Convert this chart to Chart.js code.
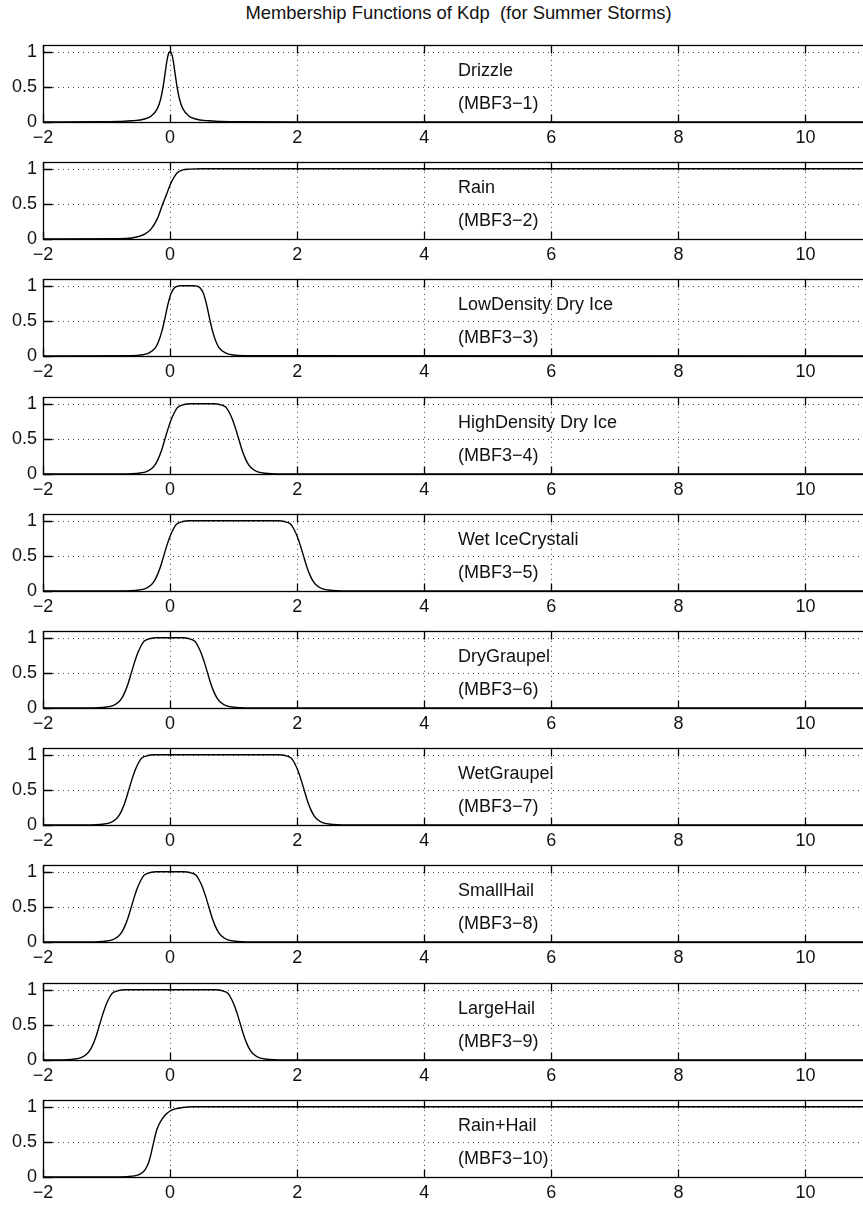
<!DOCTYPE html>
<html>
<head>
<meta charset="utf-8">
<title>Membership Functions of Kdp</title>
<script src="https://cdn.jsdelivr.net/npm/chart.js@4.4.0/dist/chart.umd.min.js"></script>
<style>
    html, body { margin: 0; padding: 0; background: #fff; overflow: hidden; }
    body { width: 863px; height: 1207px; position: relative; font-family: 'Liberation Sans', Arial, Helvetica, sans-serif; }
    #title { position: absolute; left: 0; top: 3px; width: 917px; text-align: center; font-size: 18.4px; line-height: 20px; color: #111; white-space: pre; }
    canvas { position: absolute; left: 0; }
</style>
</head>
<body>
<div id="title">Membership Functions of Kdp  (for Summer Storms)</div>
<div id="panels"></div>
<script>
// Axis ticks
const xTicks = [-2, 0, 2, 4, 6, 8, 10];
const yTicks = [0, 0.5, 1];

// Panel labels
const classNames = ['Drizzle', 'Rain', 'LowDensity Dry Ice', 'HighDensity Dry Ice', 'Wet IceCrystali',
    'DryGraupel', 'WetGraupel', 'SmallHail', 'LargeHail', 'Rain+Hail'];
const classCodes = ['(MBF3\u22121)', '(MBF3\u22122)', '(MBF3\u22123)', '(MBF3\u22124)', '(MBF3\u22125)',
    '(MBF3\u22126)', '(MBF3\u22127)', '(MBF3\u22128)', '(MBF3\u22129)', '(MBF3\u221210)'];

// Curves (Kdp -> membership)
const drizzleX = [-2, -1.2, -0.8, -0.6, -0.4, -0.3, -0.2, -0.15, -0.11, -0.1, -0.075, -0.05, -0.025, 0, 0.025, 0.05, 0.075, 0.1, 0.11, 0.15, 0.2, 0.3, 0.4, 0.6, 0.8, 1.2, 2, 11];
const drizzleY = [0.001, 0.003, 0.0085, 0.017, 0.043, 0.083, 0.19, 0.32, 0.5, 0.557, 0.715, 0.87, 0.972, 1, 0.972, 0.87, 0.715, 0.557, 0.5, 0.32, 0.19, 0.083, 0.043, 0.017, 0.0085, 0.003, 0.001, 0];

const rainX = [-2, -0.8, -0.6, -0.5, -0.4, -0.3, -0.2, -0.115, -0.05, 0, 0.05, 0.1, 0.15, 0.2, 0.3, 0.5, 11];
const rainY = [0, 0.003, 0.015, 0.035, 0.07, 0.14, 0.29, 0.5, 0.65, 0.77, 0.86, 0.93, 0.965, 0.985, 0.995, 1, 1];

const lowIceX = [-2, -0.63, -0.43, -0.33, -0.23, -0.18, -0.13, -0.09, -0.03, 0.02, 0.07, 0.12, 0.17, 0.27, 0.37, 0.42, 0.47, 0.52, 0.57, 0.63, 0.67, 0.72, 0.77, 0.87, 0.97, 1.17, 11];
const lowIceY = [0, 0.004, 0.018, 0.045, 0.12, 0.21, 0.35, 0.5, 0.75, 0.9, 0.971, 0.995, 1, 1, 1, 0.995, 0.971, 0.9, 0.75, 0.5, 0.35, 0.21, 0.12, 0.045, 0.018, 0.004, 0];

const highIceX = [-2, -0.68, -0.53, -0.38, -0.28, -0.23, -0.18, -0.13, -0.08, -0.03, 0.02, 0.07, 0.12, 0.22, 0.32, 0.68, 0.78, 0.88, 0.93, 0.98, 1.03, 1.08, 1.13, 1.18, 1.23, 1.28, 1.38, 1.53, 1.68, 11];
const highIceY = [0, 0.002, 0.008, 0.03, 0.085, 0.14, 0.23, 0.35, 0.5, 0.65, 0.78, 0.88, 0.95, 0.99, 1, 1, 0.99, 0.95, 0.88, 0.78, 0.65, 0.5, 0.35, 0.23, 0.14, 0.085, 0.03, 0.008, 0.002, 0];

const wetIceX = [-2, -0.7, -0.55, -0.4, -0.3, -0.25, -0.2, -0.15, -0.1, -0.05, 0, 0.05, 0.1, 0.2, 0.3, 1.7, 1.8, 1.9, 1.95, 2.0, 2.05, 2.1, 2.15, 2.2, 2.25, 2.3, 2.4, 2.55, 2.7, 11];
const wetIceY = [0, 0.002, 0.008, 0.03, 0.085, 0.14, 0.23, 0.35, 0.5, 0.65, 0.78, 0.88, 0.95, 0.99, 1, 1, 0.99, 0.95, 0.88, 0.78, 0.65, 0.5, 0.35, 0.23, 0.14, 0.085, 0.03, 0.008, 0.002, 0];

const dryGraupelX = [-2, -1.21, -1.06, -0.91, -0.81, -0.76, -0.71, -0.66, -0.61, -0.56, -0.51, -0.46, -0.41, -0.31, -0.21, 0.19, 0.29, 0.39, 0.44, 0.49, 0.54, 0.59, 0.64, 0.69, 0.74, 0.79, 0.89, 1.04, 1.19, 11];
const dryGraupelY = [0, 0.002, 0.008, 0.03, 0.085, 0.14, 0.23, 0.35, 0.5, 0.65, 0.78, 0.88, 0.95, 0.99, 1, 1, 0.99, 0.95, 0.88, 0.78, 0.65, 0.5, 0.35, 0.23, 0.14, 0.085, 0.03, 0.008, 0.002, 0];

const wetGraupelX = [-2, -1.25, -1.1, -0.95, -0.85, -0.8, -0.75, -0.7, -0.65, -0.6, -0.55, -0.5, -0.45, -0.35, -0.25, 1.71, 1.81, 1.91, 1.96, 2.01, 2.06, 2.11, 2.16, 2.21, 2.26, 2.31, 2.41, 2.56, 2.71, 11];
const wetGraupelY = [0, 0.002, 0.008, 0.03, 0.085, 0.14, 0.23, 0.35, 0.5, 0.65, 0.78, 0.88, 0.95, 0.99, 1, 1, 0.99, 0.95, 0.88, 0.78, 0.65, 0.5, 0.35, 0.23, 0.14, 0.085, 0.03, 0.008, 0.002, 0];

const smallHailX = [-2, -1.21, -1.06, -0.91, -0.81, -0.76, -0.71, -0.66, -0.61, -0.56, -0.51, -0.46, -0.41, -0.31, -0.21, 0.21, 0.31, 0.41, 0.46, 0.51, 0.56, 0.61, 0.66, 0.71, 0.76, 0.81, 0.91, 1.06, 1.21, 11];
const smallHailY = [0, 0.002, 0.008, 0.03, 0.085, 0.14, 0.23, 0.35, 0.5, 0.65, 0.78, 0.88, 0.95, 0.99, 1, 1, 0.99, 0.95, 0.88, 0.78, 0.65, 0.5, 0.35, 0.23, 0.14, 0.085, 0.03, 0.008, 0.002, 0];

const largeHailX = [-2, -1.71, -1.56, -1.41, -1.31, -1.26, -1.21, -1.16, -1.11, -1.06, -1.01, -0.96, -0.91, -0.81, -0.71, 0.71, 0.81, 0.91, 0.96, 1.01, 1.06, 1.11, 1.16, 1.21, 1.26, 1.31, 1.41, 1.56, 1.71, 11];
const largeHailY = [0, 0.002, 0.008, 0.03, 0.085, 0.14, 0.23, 0.35, 0.5, 0.65, 0.78, 0.88, 0.95, 0.99, 1, 1, 0.99, 0.95, 0.88, 0.78, 0.65, 0.5, 0.35, 0.23, 0.14, 0.085, 0.03, 0.008, 0.002, 0];

const rainHailX = [-2, -0.8, -0.6, -0.5, -0.44, -0.39, -0.34, -0.3, -0.26, -0.21, -0.15, -0.08, 0, 0.08, 0.2, 0.35, 11];
const rainHailY = [0, 0.002, 0.012, 0.03, 0.06, 0.11, 0.2, 0.33, 0.49, 0.67, 0.79, 0.88, 0.94, 0.97, 0.99, 1, 1];

const curves = [
    [drizzleX, drizzleY], [rainX, rainY], [lowIceX, lowIceY], [highIceX, highIceY], [wetIceX, wetIceY],
    [dryGraupelX, dryGraupelY], [wetGraupelX, wetGraupelY], [smallHailX, smallHailY], [largeHailX, largeHailY], [rainHailX, rainHailY]
];

const FONT = "'Liberation Sans', Arial, Helvetica, sans-serif";

// MATLAB-like box, dotted grid, inward ticks and the two text lines
const matlabAxes = {
    id: 'matlabAxes',
    beforeDatasetsDraw(chart) {
        const { ctx, chartArea: a, scales: { x, y } } = chart;
        ctx.save();
        ctx.strokeStyle = '#444';
        ctx.lineWidth = 1;
        ctx.setLineDash([1, 4]);
        ctx.beginPath();
        xTicks.forEach(v => {
            if (v === x.min) return;
            const px = Math.round(x.getPixelForValue(v)) + 0.5;
            ctx.moveTo(px, a.top);
            ctx.lineTo(px, a.bottom);
        });
        yTicks.forEach(v => {
            if (v === 0) return;
            const py = Math.round(y.getPixelForValue(v)) + 0.5;
            ctx.moveTo(a.left, py);
            ctx.lineTo(a.right, py);
        });
        ctx.stroke();
        ctx.restore();
    },
    afterDatasetsDraw(chart, args, opts) {
        const { ctx, chartArea: a, scales: { x, y } } = chart;
        ctx.save();
        ctx.strokeStyle = '#000';
        ctx.lineWidth = 1.3;
        const l = Math.round(a.left) + 0.5, t = Math.round(a.top) + 0.5;
        const r = Math.round(a.right) + 0.5, b = Math.round(a.bottom) + 0.5;
        ctx.strokeRect(l, t, r - l, b - t);

        ctx.beginPath();
        xTicks.forEach(v => {
            const px = Math.round(x.getPixelForValue(v)) + 0.5;
            ctx.moveTo(px, b); ctx.lineTo(px, b - 8);
            ctx.moveTo(px, t); ctx.lineTo(px, t + 8);
        });
        yTicks.forEach(v => {
            const py = Math.round(y.getPixelForValue(v)) + 0.5;
            ctx.moveTo(l, py); ctx.lineTo(l + 9, py);
        });
        ctx.stroke();

        ctx.fillStyle = '#111';
        ctx.font = '18px ' + FONT;
        ctx.textAlign = 'left';
        ctx.textBaseline = 'middle';
        const tx = x.getPixelForValue(4.53);
        ctx.fillText(opts.name, tx, y.getPixelForValue(0.73));
        ctx.fillText(opts.code, tx, y.getPixelForValue(0.25));
        ctx.restore();
    }
};

const holder = document.getElementById('panels');

curves.forEach(([xs, ys], k) => {
    const canvas = document.createElement('canvas');
    canvas.width = 900;
    canvas.height = 122;
    canvas.style.top = Math.round(28 + 117.2 * k) + 'px';
    holder.appendChild(canvas);

    new Chart(canvas, {
        type: 'line',
        data: {
            datasets: [{
                data: xs.map((v, i) => ({ x: v, y: ys[i] })),
                borderColor: '#000',
                borderWidth: 1.4,
                pointRadius: 0,
                fill: false,
                cubicInterpolationMode: 'monotone'
            }]
        },
        options: {
            responsive: false,
            animation: false,
            devicePixelRatio: 1,
            layout: { padding: { top: 6, right: 31, left: 0, bottom: 0 } },
            plugins: {
                legend: { display: false },
                tooltip: { enabled: false },
                matlabAxes: { name: classNames[k], code: classCodes[k] }
            },
            scales: {
                x: {
                    type: 'linear',
                    min: -2,
                    max: 11,
                    afterBuildTicks: s => { s.ticks = xTicks.map(v => ({ value: v })); },
                    afterFit: s => { s.height = 28; },
                    grid: { display: false, drawTicks: false },
                    border: { display: false },
                    ticks: {
                        color: '#111',
                        font: { family: FONT, size: 18 },
                        padding: 5,
                        maxRotation: 0,
                        autoSkip: false,
                        callback: v => v < 0 ? '\u2212' + Math.abs(v) : String(v)
                    }
                },
                y: {
                    type: 'linear',
                    min: 0,
                    max: 1.1,
                    afterBuildTicks: s => { s.ticks = yTicks.map(v => ({ value: v })); },
                    afterFit: s => { s.width = 43; },
                    grid: { display: false, drawTicks: false },
                    border: { display: false },
                    ticks: {
                        color: '#111',
                        font: { family: FONT, size: 18 },
                        padding: 6,
                        callback: v => String(v)
                    }
                }
            }
        },
        plugins: [matlabAxes]
    });
});
</script>
</body>
</html>
